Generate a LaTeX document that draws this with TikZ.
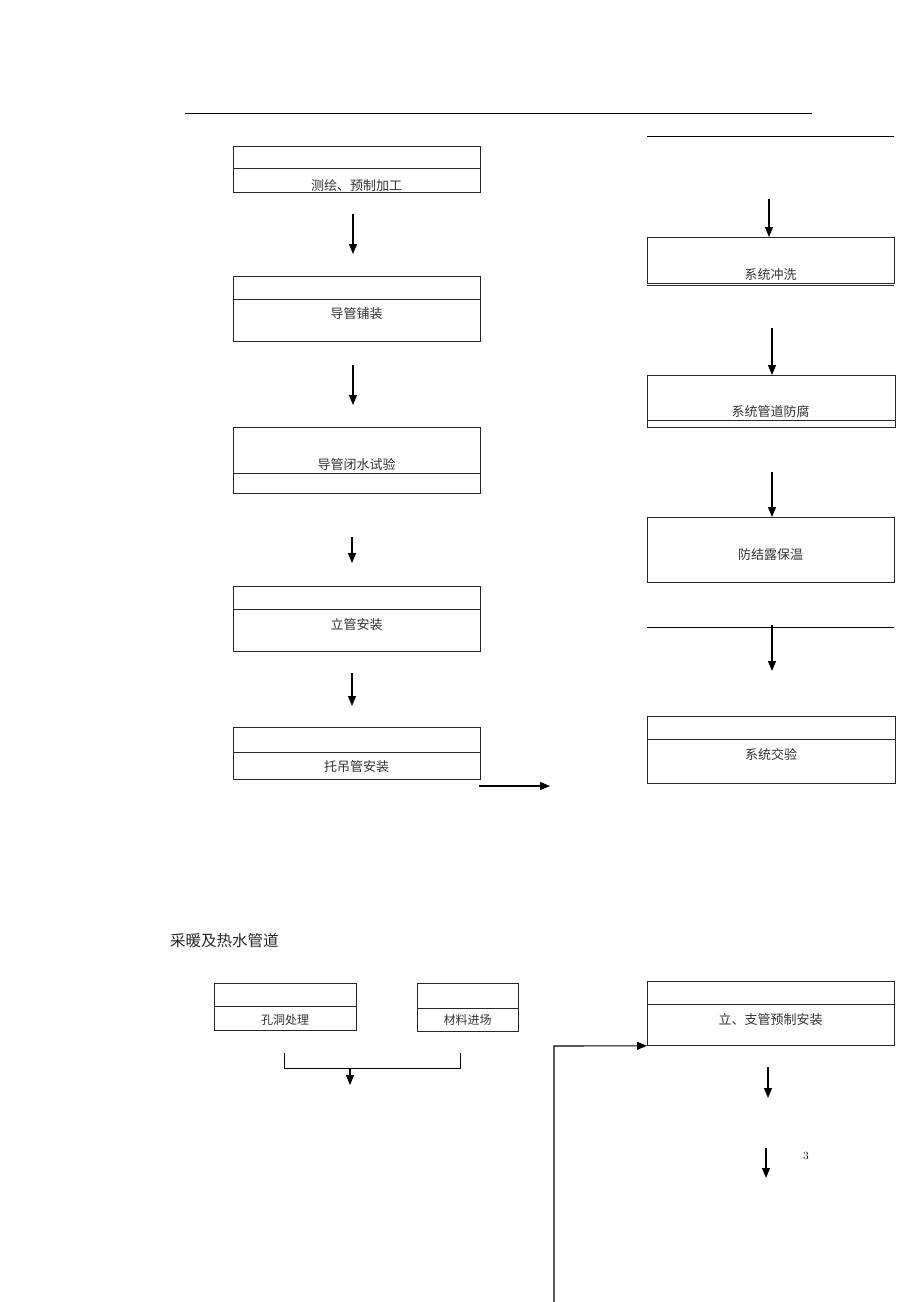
\documentclass[tikz,border=0pt]{standalone}
\usepackage{fontspec}
\newfontfamily\cjk{Noto Sans CJK SC}
\usetikzlibrary{arrows.meta}
\begin{document}
\begin{tikzpicture}[x=1pt,y=-1pt,
  box/.style={draw=black!85,line width=0.8pt,inner sep=0pt,anchor=north west},
  divider/.style={draw=black!85,line width=0.8pt},
  lbl/.style={font=\cjk\fontsize{13}{13}\selectfont,text=black!80,inner sep=0pt},
  flow/.style={line width=1.1pt,-{Triangle[length=10pt,width=8pt]}},
  rule/.style={line width=0.9pt}]
\useasboundingbox (0,0) rectangle (920,1302);
% top rules
\coordinate (r1a) at (185,113); \coordinate (r1b) at (812,113);
\draw[rule] (r1a) -- (r1b);
\coordinate (r2a) at (647,136); \coordinate (r2b) at (894,136);
\draw[rule] (r2a) -- (r2b);
% ---- left column ----
\node[box,minimum width=247pt,minimum height=46pt] (b1) at (233,146) {};
\draw[divider] (233,168) -- (480,168);
\begin{scope}
\clip (233,146) rectangle (480,191.5);
\node[lbl] (t1) at (356.5,186) {测绘、预制加工};
\end{scope}
\coordinate (a1) at (353,214);
\node[box,minimum width=247pt,minimum height=65pt] (b2) at (233,276) {};
\draw[divider] (233,299) -- (480,299);
\node[lbl] (t2) at (356.5,314) {导管铺装};
\coordinate (a1e) at (353,254);
\draw[flow] (a1) -- (a1e);
\coordinate (a2) at (353,365); \coordinate (a2e) at (353,405);
\draw[flow] (a2) -- (a2e);
\node[box,minimum width=247pt,minimum height=66pt] (b3) at (233,427) {};
\draw[divider] (233,473) -- (480,473);
\node[lbl] (t3) at (356.5,465) {导管闭水试验};
\coordinate (a3) at (352,537); \coordinate (a3e) at (352,563);
\draw[flow] (a3) -- (a3e);
\node[box,minimum width=247pt,minimum height=65pt] (b4) at (233,586) {};
\draw[divider] (233,609) -- (480,609);
\node[lbl] (t4) at (356.5,625) {立管安装};
\coordinate (a4) at (352,673); \coordinate (a4e) at (352,706);
\draw[flow] (a4) -- (a4e);
\node[box,minimum width=247pt,minimum height=52pt] (b5) at (233,727) {};
\draw[divider] (233,752) -- (480,752);
\node[lbl] (t5) at (356.5,767) {托吊管安装};
\coordinate (h1) at (479,786); \coordinate (h1e) at (550,786);
\draw[flow] (h1) -- (h1e);
% ---- right column ----
\node[box,minimum width=247pt,minimum height=46pt] (c1) at (647,237) {};
\draw[divider] (647,285) -- (894,285);
\node[lbl] (u1) at (770.5,275) {系统冲洗};
\coordinate (d1) at (769,199);
\draw[flow] (d1) -- (c1.north -| d1);
\node[box,minimum width=248pt,minimum height=52pt] (c2) at (647,375) {};
\draw[divider] (647,420) -- (895,420);
\node[lbl] (u2) at (770.5,412) {系统管道防腐};
\coordinate (d2) at (772,328);
\draw[flow] (d2) -- (c2.north -| d2);
\node[box,minimum width=247pt,minimum height=65pt] (c3) at (647,517) {};
\node[lbl] (u3) at (770.5,555) {防结露保温};
\coordinate (d3) at (772,472);
\draw[flow] (d3) -- (c3.north -| d3);
\coordinate (r3a) at (647,627); \coordinate (r3b) at (894,627);
\draw[rule] (r3a) -- (r3b);
\coordinate (d4) at (772,625); \coordinate (d4e) at (772,671);
\draw[flow] (d4) -- (d4e);
\node[box,minimum width=248pt,minimum height=67pt] (c4) at (647,716) {};
\draw[divider] (647,739) -- (895,739);
\node[lbl] (u4) at (771,755) {系统交验};
% ---- bottom section ----
\node[font=\cjk\fontsize{15.5}{15.5}\selectfont,text=black!85,inner sep=0pt,anchor=west] (title) at (170,941) {采暖及热水管道};
\node[box,minimum width=142pt,minimum height=47pt] (e1) at (214,983) {};
\draw[divider] (214,1006) -- (356,1006);
\node[lbl,font=\cjk\fontsize{12}{12}\selectfont] (v1) at (285,1020) {孔洞处理};
\node[box,minimum width=101pt,minimum height=48pt] (e2) at (417,983) {};
\draw[divider] (417,1008) -- (518,1008);
\node[lbl,font=\cjk\fontsize{12}{12}\selectfont] (v2) at (467.5,1020) {材料进场};
\coordinate (k1) at (284,1053); \coordinate (k2) at (460,1053);
\coordinate (k3) at (350,1068); \coordinate (k3e) at (350,1085);
\draw[line width=0.9pt] (k1) -- (284,1068) -- (460,1068) -- (k2);
\draw[flow] (k3) -- (k3e);
\node[box,minimum width=247pt,minimum height=64pt] (f1) at (647,981) {};
\draw[divider] (647,1004) -- (894,1004);
\node[lbl] (w1) at (770.5,1020) {立、支管预制安装};
\coordinate (L0) at (554,1302); \coordinate (L1) at (554,1046);
\draw[line width=1.1pt,-{Triangle[length=10pt,width=8pt]}] (L0) -- (L1) -- (f1.south west);
\coordinate (g1) at (768,1067); \coordinate (g1e) at (768,1098);
\draw[flow] (g1) -- (g1e);
\coordinate (g2) at (766,1148); \coordinate (g2e) at (766,1178);
\draw[flow] (g2) -- (g2e);
\node[font=\fontsize{11}{11}\selectfont,inner sep=0pt] (n3) at (806,1156) {3};
\end{tikzpicture}
\end{document}
